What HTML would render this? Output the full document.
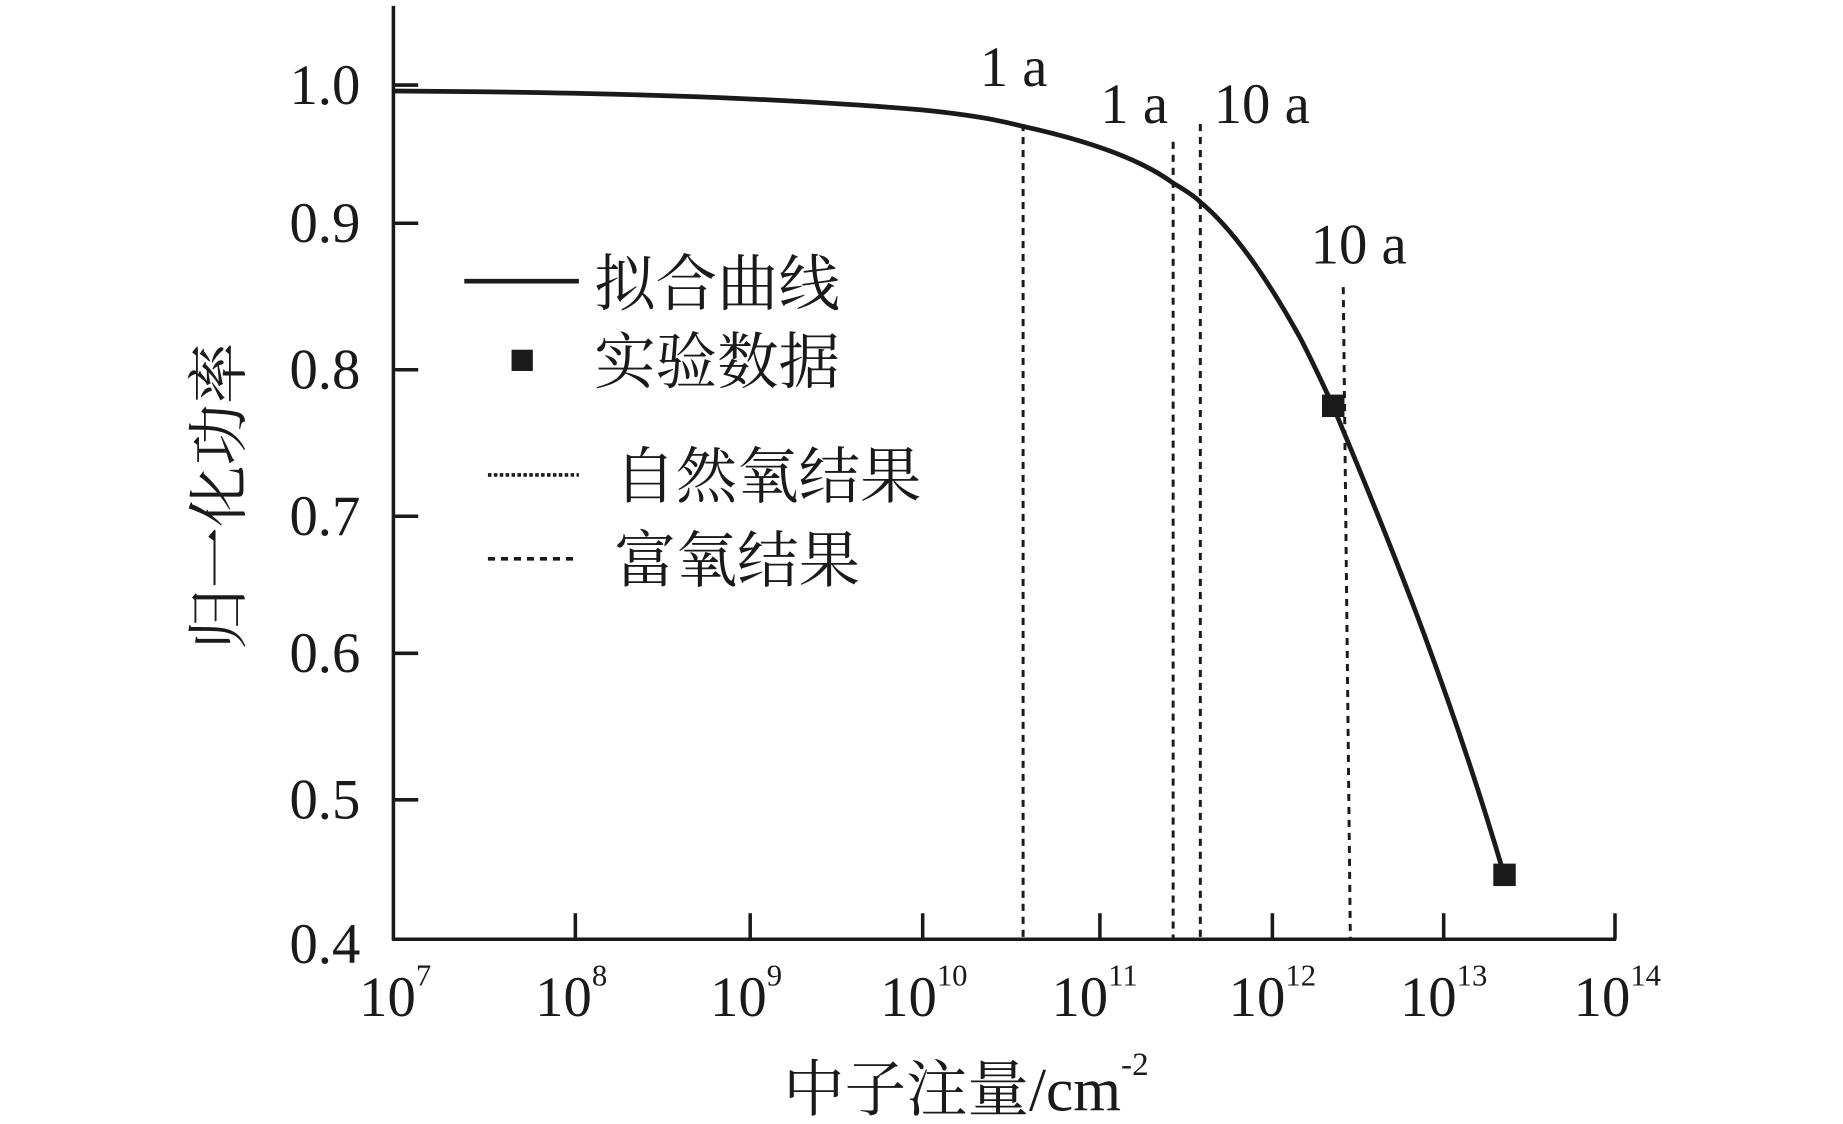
<!DOCTYPE html>
<html><head><meta charset="utf-8"><style>
html,body{margin:0;padding:0;background:#fff;}
svg{display:block;}
text{font-family:"Liberation Serif","Noto Serif CJK SC",serif;fill:#1a1a1a;}
</style></head><body>
<svg width="1843" height="1124" viewBox="0 0 1560 951.4" preserveAspectRatio="none" xmlns="http://www.w3.org/2000/svg">
<g stroke="#1a1a1a" fill="none">
<line x1="333" y1="5" x2="333" y2="796" stroke-width="3"/>
<line x1="332" y1="795" x2="1368" y2="795" stroke-width="3"/>
<g stroke-width="3">
<line x1="333" y1="72" x2="354" y2="72"/>
<line x1="333" y1="189" x2="354" y2="189"/>
<line x1="333" y1="313" x2="354" y2="313"/>
<line x1="333" y1="437" x2="354" y2="437"/>
<line x1="333" y1="553" x2="354" y2="553"/>
<line x1="333" y1="677" x2="354" y2="677"/>
<line x1="487" y1="795" x2="487" y2="773"/>
<line x1="635" y1="795" x2="635" y2="773"/>
<line x1="781" y1="795" x2="781" y2="773"/>
<line x1="931" y1="795" x2="931" y2="773"/>
<line x1="1077" y1="795" x2="1077" y2="773"/>
<line x1="1222" y1="795" x2="1222" y2="773"/>
<line x1="1367" y1="795" x2="1367" y2="773"/>
</g>
<g stroke-width="2.5" stroke-dasharray="6,5">
<line x1="866" y1="105" x2="866" y2="795"/>
<line x1="993" y1="120" x2="993" y2="795"/>
<line x1="1016" y1="105" x2="1016" y2="795"/>
<line x1="1137" y1="243" x2="1143" y2="795"/>
</g>
<path d="M333,77 C500,78 650,82 780,93 C830,98 850,103 866,107 C930,121 970,138 993,155 C1005,162 1012,167 1016,171 C1045,195 1075,240 1100,285 C1112,308 1122,330 1128,343 C1160,420 1220,560 1273,740" stroke-width="4"/>
<line x1="393" y1="238" x2="490" y2="238" stroke-width="4"/>
<line x1="413" y1="402" x2="490" y2="402" stroke-width="3" stroke-dasharray="3,2"/>
<line x1="413" y1="473" x2="490" y2="473" stroke-width="3" stroke-dasharray="6,5"/>
</g>
<g fill="#1a1a1a">
<rect x="1119" y="334" width="19" height="19"/>
<rect x="1264" y="731" width="19" height="19"/>
<rect x="433" y="296" width="18" height="18"/>
</g>
<g font-size="48" text-anchor="end">
<text x="305" y="88">1.0</text>
<text x="305" y="205">0.9</text>
<text x="305" y="329">0.8</text>
<text x="305" y="453">0.7</text>
<text x="305" y="569">0.6</text>
<text x="305" y="693">0.5</text>
<text x="305" y="815">0.4</text>
</g>
<g font-size="48">
<text x="304" y="860">10<tspan font-size="26" dy="-26">7</tspan></text>
<text x="453" y="860">10<tspan font-size="26" dy="-26">8</tspan></text>
<text x="601" y="860">10<tspan font-size="26" dy="-26">9</tspan></text>
<text x="745" y="860">10<tspan font-size="26" dy="-26">10</tspan></text>
<text x="890" y="860">10<tspan font-size="26" dy="-26">11</tspan></text>
<text x="1040" y="860">10<tspan font-size="26" dy="-26">12</tspan></text>
<text x="1185" y="860">10<tspan font-size="26" dy="-26">13</tspan></text>
<text x="1332" y="860">10<tspan font-size="26" dy="-26">14</tspan></text>
</g>
<g font-size="48" text-anchor="middle">
<text x="858" y="73">1 a</text>
<text x="960" y="104">1 a</text>
<text x="1068" y="104">10 a</text>
<text x="1150" y="223">10 a</text>
</g>
<g font-size="52">
<text x="503" y="258">拟合曲线</text>
<text x="503" y="324">实验数据</text>
<text x="520" y="421">自然氧结果</text>
<text x="520" y="492">富氧结果</text>
<text x="663" y="940">中子注量/cm<tspan font-size="28" dy="-30">-2</tspan></text>
</g>
<text font-size="52" text-anchor="middle" transform="translate(203,420) rotate(-90)">归一化功率</text>
</svg>
</body></html>
